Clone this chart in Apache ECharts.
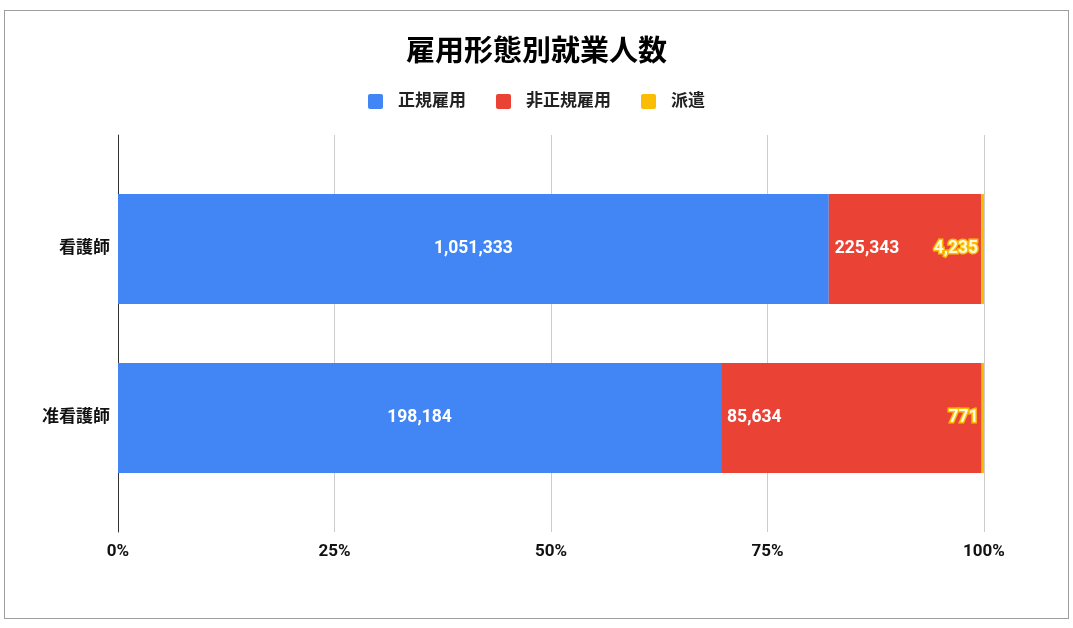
<!DOCTYPE html>
<html>
<head>
<meta charset="utf-8">
<script src="https://cdn.jsdelivr.net/npm/echarts@6/dist/echarts.min.js"></script>
<style>
  html, body { margin: 0; padding: 0; background: #fff; }
  #bar_chart {
    position: absolute;
    left: 4px;
    top: 10px;
    width: 1063px;
    height: 607px;
    border: 1px solid #9e9e9e;
  }
</style>
</head>
<body>
<div id="bar_chart"></div>
<script>
var categories = ['看護師', '准看護師'];
var seriesNames = ['正規雇用', '非正規雇用', '派遣'];
var regular = [1051333, 198184];
var nonRegular = [225343, 85634];
var dispatch = [4235, 771];
var tickLabels = ['0%', '25%', '50%', '75%', '100%'];

var colors = ['#4285f4', '#ea4335', '#fbbc04'];
var font = 'Roboto, "Noto Sans CJK JP", sans-serif';

var totals = categories.map(function (c, i) {
  return regular[i] + nonRegular[i] + dispatch[i];
});

function share(arr) {
  return arr.map(function (v, i) {
    return { value: v / totals[i], raw: v };
  });
}

function rawLabel(p) {
  return p.data.raw.toLocaleString('en-US');
}

var dom = document.getElementById('bar_chart');
var chart = echarts.init(dom, null, { renderer: 'canvas' });

var baseLabel = {
  show: true,
  fontFamily: font,
  fontSize: 17.5,
  fontWeight: 'bold',
  color: '#fff',
  formatter: rawLabel
};

var pctAxis = {
  type: 'value',
  min: 0,
  max: 1,
  interval: 0.25,
  axisLine: { show: false },
  axisTick: { show: false }
};

var option = {
  animation: false,
  textStyle: { fontFamily: font },
  color: colors,
  title: {
    text: '雇用形態別就業人数',
    left: 'center',
    top: 23,
    textStyle: {
      fontFamily: font,
      fontSize: 29,
      fontWeight: 'bold',
      color: '#000'
    }
  },
  legend: {
    top: 77,
    left: 'center',
    itemWidth: 15,
    itemHeight: 15,
    itemGap: 30,
    icon: 'path://M2,0 H13 Q15,0 15,2 V13 Q15,15 13,15 H2 Q0,15 0,13 V2 Q0,0 2,0 Z',
    data: seriesNames,
    textStyle: {
      fontFamily: font,
      fontSize: 17,
      fontWeight: 'bold',
      color: '#222',
      padding: [0, 0, 0, 10]
    }
  },
  // grid 0: frame (gridlines, axis line, tick labels); grid 1: the bars
  grid: [
    { left: 113, right: 84, top: 124, bottom: 86 },
    { left: 113, right: 84, top: 153.5, bottom: 115.5 }
  ],
  xAxis: [
    Object.assign({}, pctAxis, {
      gridIndex: 0,
      splitLine: { lineStyle: { color: '#cccccc' } },
      axisLabel: {
        margin: 11,
        fontFamily: font,
        fontSize: 17,
        fontWeight: 'bold',
        color: '#111',
        formatter: function (v) {
          return tickLabels[Math.round(v / 0.25)];
        }
      }
    }),
    Object.assign({}, pctAxis, {
      gridIndex: 1,
      splitLine: { show: false },
      axisLabel: { show: false }
    })
  ],
  yAxis: [
    {
      type: 'category',
      gridIndex: 0,
      data: [''],
      axisLine: { show: true, lineStyle: { color: '#333', width: 1 } },
      axisTick: { show: false },
      axisLabel: { show: false }
    },
    {
      type: 'category',
      gridIndex: 1,
      inverse: true,
      data: categories,
      axisLine: { show: false },
      axisTick: { show: false },
      axisLabel: {
        margin: 8,
        fontFamily: font,
        fontSize: 17,
        fontWeight: 'bold',
        color: '#111'
      }
    }
  ],
  series: [
    {
      name: seriesNames[0],
      type: 'bar',
      stack: 'total',
      xAxisIndex: 1,
      yAxisIndex: 1,
      barWidth: 110,
      data: share(regular),
      label: Object.assign({}, baseLabel, { position: 'inside' })
    },
    {
      name: seriesNames[1],
      type: 'bar',
      stack: 'total',
      xAxisIndex: 1,
      yAxisIndex: 1,
      data: share(nonRegular),
      label: Object.assign({}, baseLabel, { position: 'insideLeft', distance: 6 })
    },
    {
      name: seriesNames[2],
      type: 'bar',
      stack: 'total',
      xAxisIndex: 1,
      yAxisIndex: 1,
      data: share(dispatch),
      label: Object.assign({}, baseLabel, {
        position: 'left',
        distance: 3,
        color: '#fff9dc',
        textBorderColor: '#fbbc04',
        textBorderWidth: 3
      })
    }
  ]
};

chart.setOption(option);
window.addEventListener('resize', chart.resize);
</script>
</body>
</html>
